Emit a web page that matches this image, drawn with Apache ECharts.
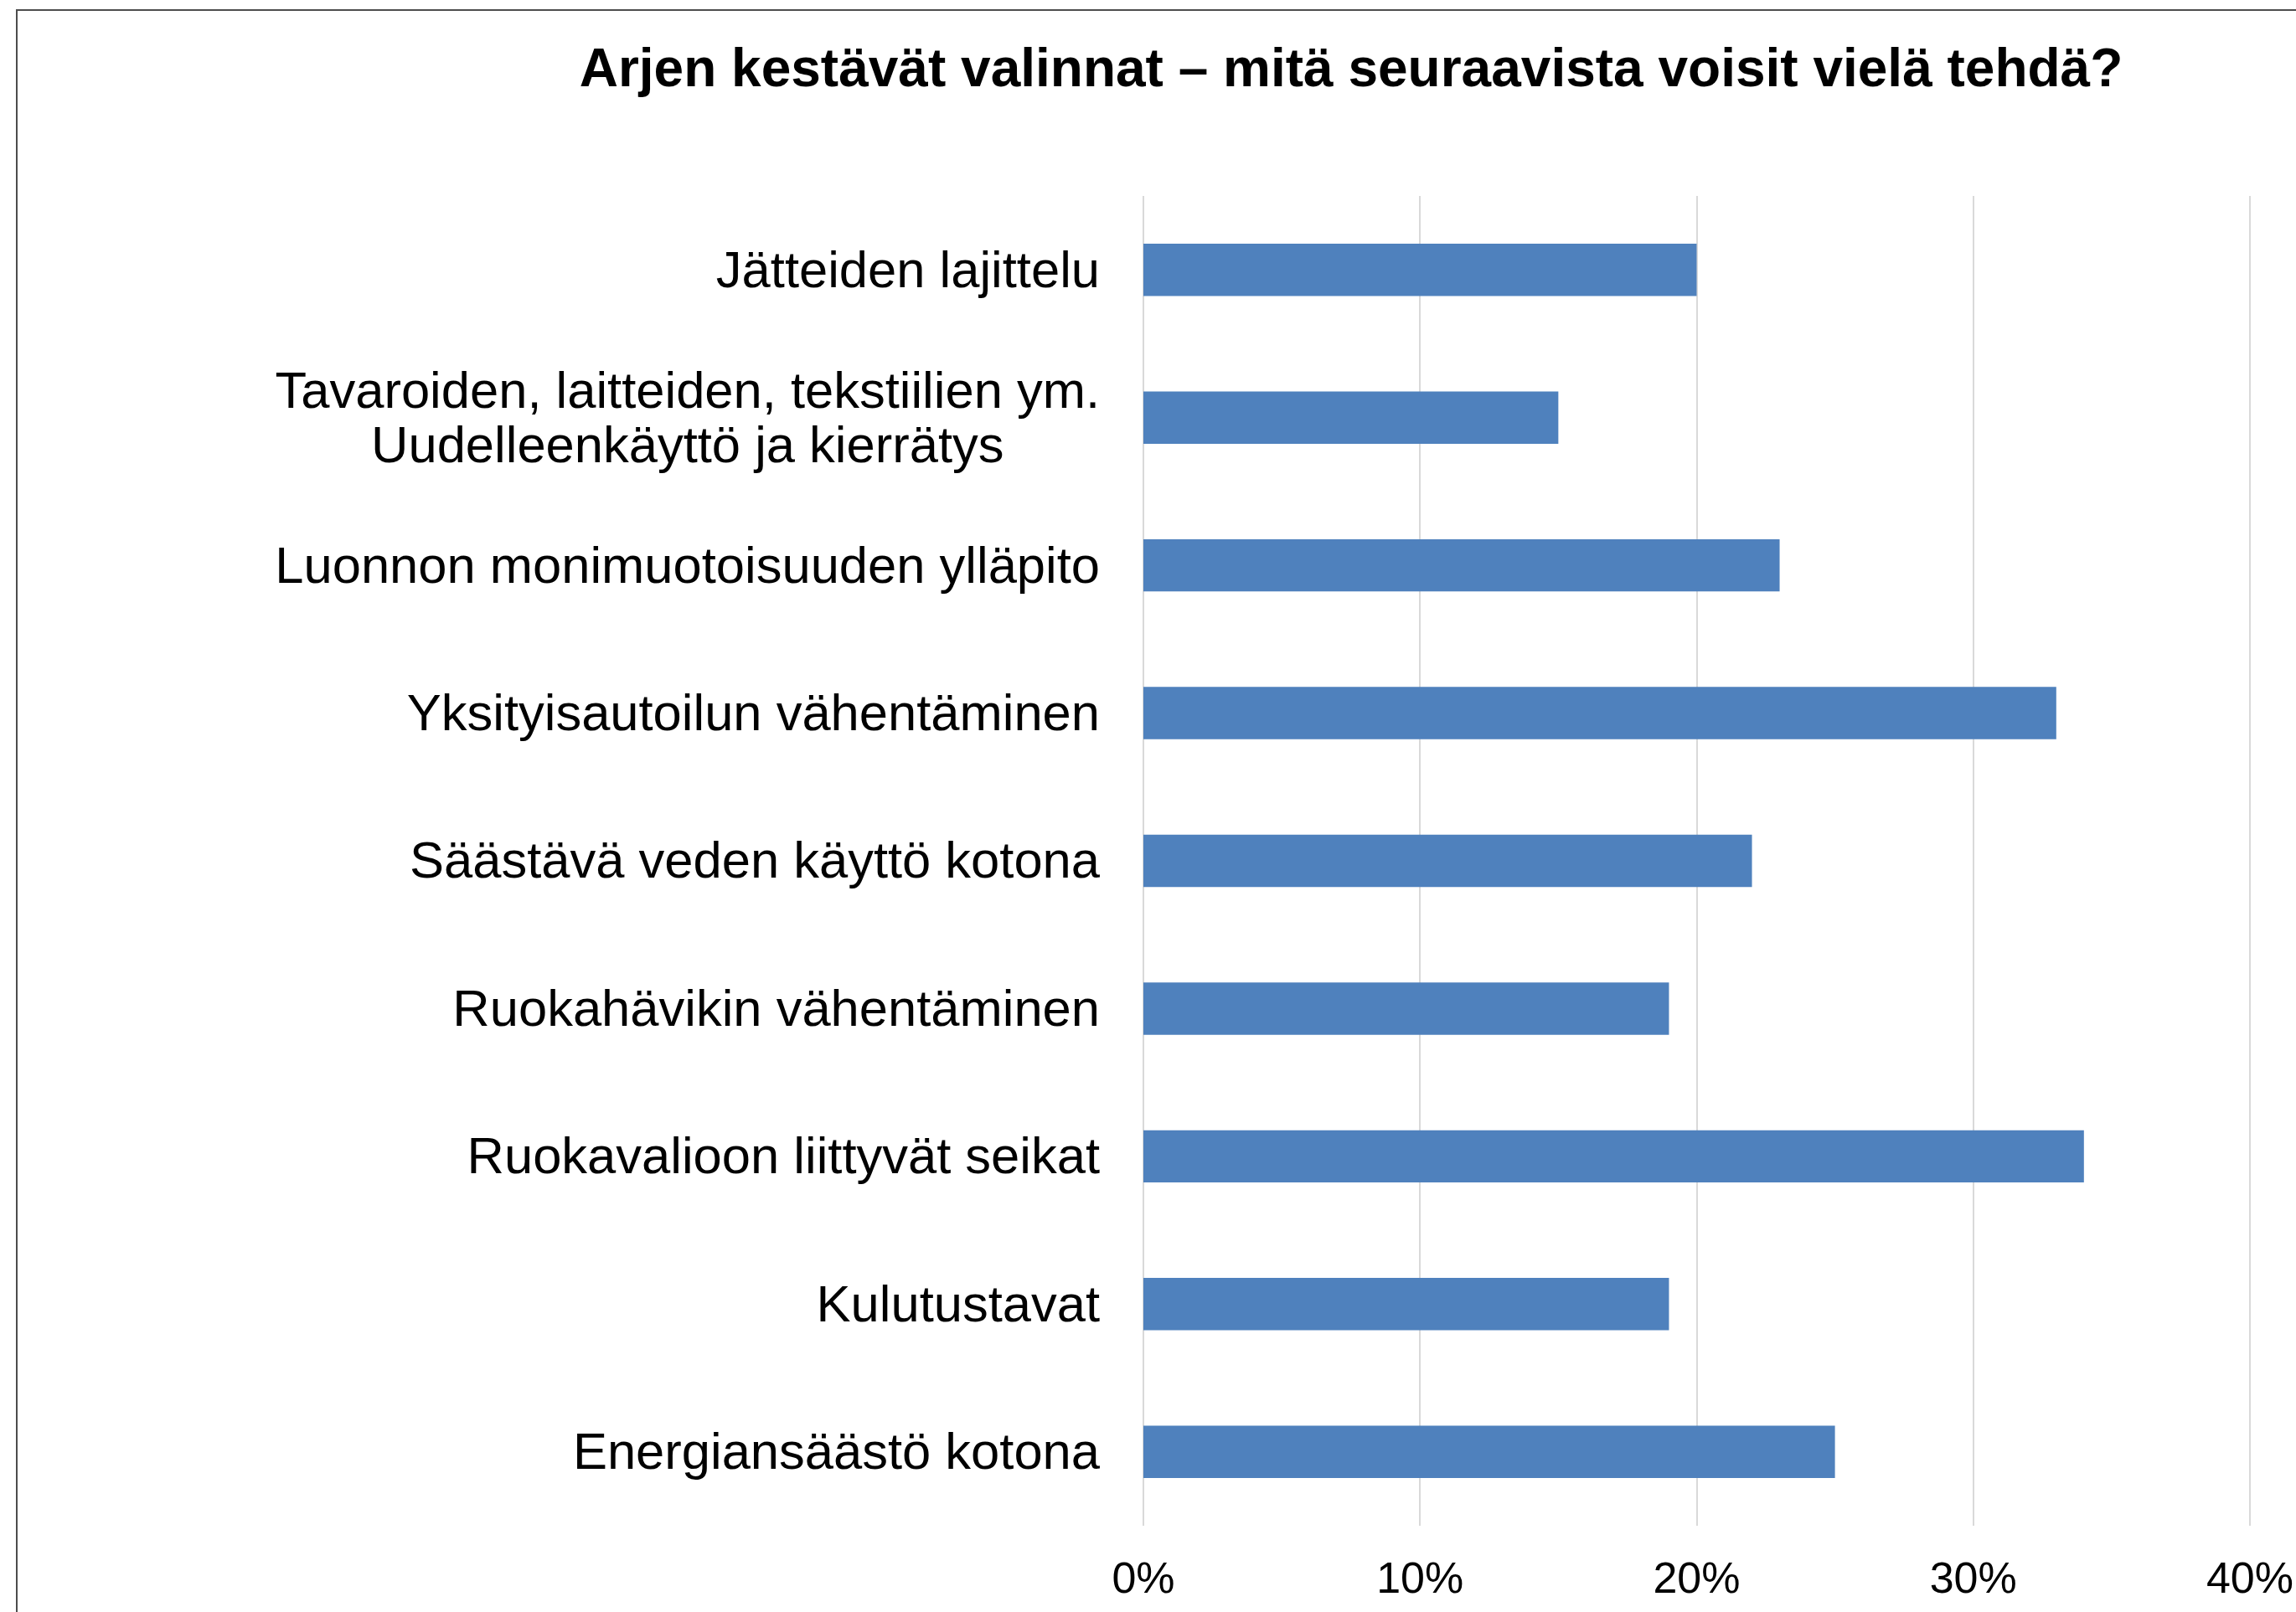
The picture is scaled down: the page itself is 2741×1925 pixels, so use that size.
<!DOCTYPE html>
<html>
<head>
<meta charset="utf-8">
<title>Arjen kestävät valinnat</title>
<script src="https://cdn.jsdelivr.net/npm/echarts@6/dist/echarts.min.js"></script>
<style>
  html, body { margin: 0; padding: 0; background: #fff; }
  #chart { width: 2741px; height: 1925px; }
</style>
</head>
<body>
<div id="chart"></div>
<script>
  var chartTitle = 'Arjen kestävät valinnat – mitä seuraavista voisit vielä tehdä?'
  var categories = [
    'Jätteiden lajittelu',
    'Tavaroiden, laitteiden, tekstiilien ym.\nUudelleenkäyttö ja kierrätys',
    'Luonnon monimuotoisuuden ylläpito',
    'Yksityisautoilun vähentäminen',
    'Säästävä veden käyttö kotona',
    'Ruokahävikin vähentäminen',
    'Ruokavalioon liittyvät seikat',
    'Kulutustavat',
    'Energiansäästö kotona'
  ]
  var shares = [20, 15, 23, 33, 22, 19, 34, 19, 25]
  var axisTicks = [0, 10, 20, 30, 40]

  var myChart = echarts.init(document.getElementById('chart'))
  var option = {
    backgroundColor: '#fff',
    animation: false,
    textStyle: {
      fontFamily: 'Liberation Sans, Arial, sans-serif'
    },
    title: {
      text: chartTitle,
      left: 1608,
      top: 48,
      textAlign: 'center',
      textStyle: {
        fontSize: 64,
        fontWeight: 'bold',
        color: '#000',
        lineHeight: 64,
        fontFamily: 'Liberation Sans, Arial, sans-serif'
      }
    },
    // ulkoreunus kuten alkuperäisessä kuvassa
    graphic: [{
      type: 'rect',
      shape: { x: 20, y: 12, width: 3000, height: 3000 },
      style: { fill: 'none', stroke: '#4d4d4d', lineWidth: 2 },
      silent: true
    }],
    grid: {
      left: 1365,
      right: 51,
      top: 234,
      bottom: 103
    },
    xAxis: {
      type: 'value',
      min: axisTicks[0],
      max: axisTicks[axisTicks.length - 1],
      interval: axisTicks[1] - axisTicks[0],
      axisLine: { show: false },
      axisTick: { show: false },
      splitLine: {
        show: true,
        lineStyle: { color: '#D9D9D9', width: 2 }
      },
      axisLabel: {
        margin: 40,
        fontSize: 52,
        lineHeight: 52,
        color: '#000',
        formatter: '{value}%'
      }
    },
    yAxis: {
      type: 'category',
      inverse: true,
      data: categories,
      axisLine: { show: false },
      axisTick: { show: false },
      axisLabel: {
        margin: 52,
        color: '#000',
        align: 'right',
        padding: [7, 0, 0, 0],
        formatter: function (value) {
          return value.split('\n').map(function (s) { return '{c|' + s + '}' }).join('\n')
        },
        rich: {
          c: {
            fontSize: 61.5,
            lineHeight: 65,
            align: 'center',
            color: '#000',
            fontFamily: 'Liberation Sans, Arial, sans-serif'
          }
        }
      }
    },
    series: [{
      name: 'Osuus',
      type: 'bar',
      data: shares,
      barWidth: '35.4%',
      itemStyle: {
        color: '#4F81BD'
      }
    }]
  }
  option && myChart.setOption(option)
  window.addEventListener('resize', myChart.resize)
</script>
</body>
</html>
